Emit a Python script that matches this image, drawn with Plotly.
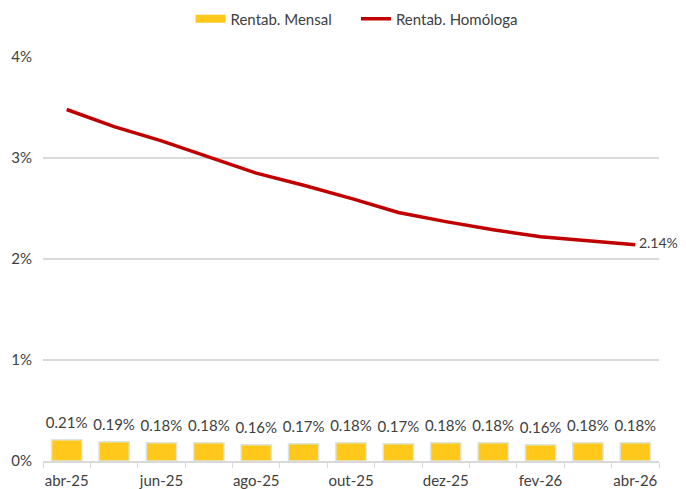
import plotly.graph_objects as go

months = ["abr-25", "mai-25", "jun-25", "jul-25", "ago-25", "set-25", "out-25",
          "nov-25", "dez-25", "jan-26", "fev-26", "mar-26", "abr-26"]
rentab_mensal = [0.21, 0.19, 0.18, 0.18, 0.16, 0.17, 0.18, 0.17, 0.18, 0.18, 0.16, 0.18, 0.18]
rentab_homologa = [3.48, 3.31, 3.17, 3.01, 2.85, 2.73, 2.60, 2.46, 2.37, 2.29, 2.22, 2.18, 2.14]
tick_labels = [m if i % 2 == 0 else "" for i, m in enumerate(months)]
y_ticks = [0, 1, 2, 3, 4]

FONT = "Lato, 'Open Sans', sans-serif"
TXT = "#404040"
FS = 15
BAR_C = "#FFC81A"
LINE_C = "#C00000"

fig = go.Figure()
fig.add_trace(go.Bar(
    x=months, y=rentab_mensal, name="Rentab. Mensal", showlegend=False,
    legendgroup="m",
    marker=dict(color=BAR_C, line=dict(color="#DDE6DD", width=1.5)),
    width=0.64,
))
# bar value labels
fig.add_trace(go.Scatter(
    x=months, y=rentab_mensal, mode="markers+text", showlegend=False,
    marker=dict(size=12, color="rgba(0,0,0,0)"), hoverinfo="skip",
    text=[f"{v:.2f}%" for v in rentab_mensal], textposition="top center",
    textfont=dict(size=FS, color=TXT, family=FONT), cliponaxis=False,
))
# legend entry for bars (wide swatch)
fig.add_trace(go.Scatter(
    x=[None], y=[None], mode="lines", name="Rentab. Mensal\u00a0\u00a0\u00a0\u00a0\u00a0",
    legendgroup="m", line=dict(color=BAR_C, width=8),
))
last_text = ["" for _ in rentab_homologa]
last_text[-1] = f" {rentab_homologa[-1]:.2f}%"
fig.add_trace(go.Scatter(
    x=months, y=rentab_homologa, name="Rentab. Homóloga",
    mode="lines+text", line=dict(color=LINE_C, width=3.5),
    text=last_text, textposition="middle right",
    textfont=dict(size=14, color=TXT, family=FONT), cliponaxis=False,
))

fig.update_layout(
    width=686, height=481,
    margin=dict(l=35, r=35, t=49, b=28, autoexpand=False),
    paper_bgcolor="white", plot_bgcolor="white",
    font=dict(family=FONT, size=FS, color=TXT),
    showlegend=True,
    legend=dict(orientation="h", x=0.509, xanchor="center", y=1.094, yanchor="middle",
                font=dict(size=FS, color=TXT, family=FONT),
                traceorder="normal"),
    bargap=0.36,
)
fig.update_xaxes(
    type="category", tickmode="array", tickvals=months, ticktext=tick_labels,
    range=[-0.5, len(months) - 0.5], autorange=False,
    tickson="boundaries", ticks="outside", ticklen=5, tickcolor="#D9D9D9",
    showline=True, linecolor="#D9D9D9", linewidth=1.5, showgrid=False,
    tickangle=0, automargin=False, ticklabelstandoff=5,
    tickfont=dict(size=FS, color=TXT, family=FONT),
)
fig.update_yaxes(
    range=[0, 4], tickvals=y_ticks, ticktext=[f"{v}%" for v in y_ticks],
    showgrid=True, gridcolor="#D9D9D9", gridwidth=1.5, zeroline=False,
    showline=False, ticks="", automargin=False, ticklabelstandoff=10,
    tickfont=dict(size=FS, color=TXT, family=FONT),
)

fig.write_html("out.html")
